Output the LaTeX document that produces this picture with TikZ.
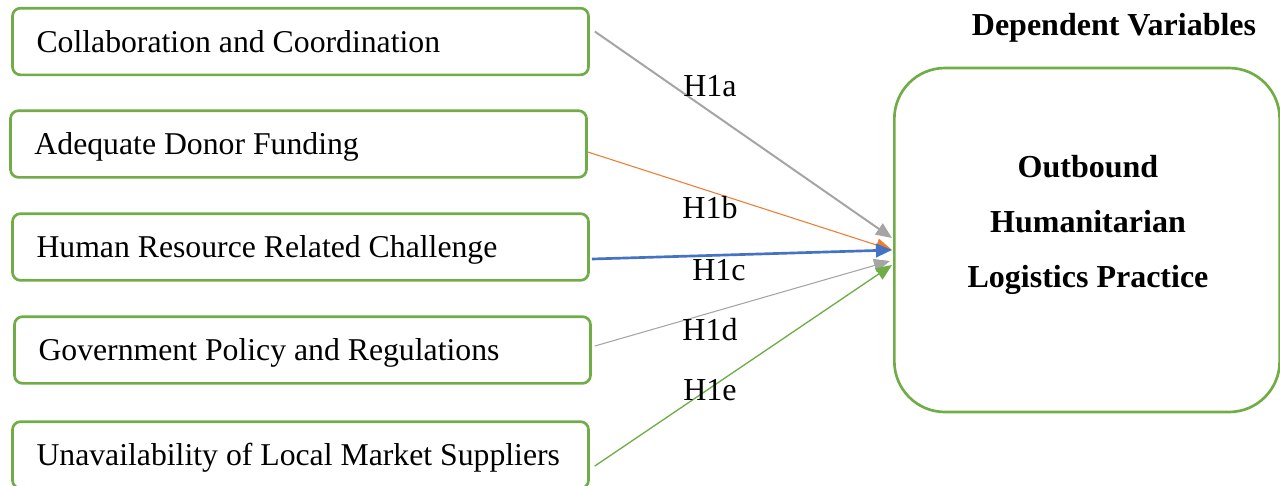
\documentclass[tikz,border=0pt]{standalone}
\usepackage{fontspec}
\setmainfont{Liberation Serif}
\usepackage{tikz}
\usetikzlibrary{calc}
\usetikzlibrary{arrows.meta}

\definecolor{boxgreen}{HTML}{70AD47}
\definecolor{linegray}{HTML}{A5A5A5}
\definecolor{lineorange}{HTML}{ED7D31}
\definecolor{lineblue}{HTML}{4472C4}

\newcommand{\vtext}[1]{\makebox[198pt][l]{#1}}

\begin{document}
\begin{tikzpicture}[x=0.375pt,y=-0.375pt]
    \tikzset{varbox/.style={draw=boxgreen, line width=1pt, rounded corners=3pt, minimum height=25pt, minimum width=216pt, inner xsep=9pt, text height=10.5pt, text depth=2.3pt, font=\fontsize{11.9}{14}\selectfont}}
    \tikzset{depbox/.style={draw=boxgreen, line width=1pt, rounded corners=19pt, minimum width=144.5pt, minimum height=129pt}}
    \tikzset{hyp/.style={font=\fontsize{12}{14}\selectfont, inner sep=1pt}}
    \tikzset{tip/.style={-{Triangle[length=6pt,width=5pt]}}}

    \useasboundingbox (0,0) rectangle (1280,485);

    %independent variables
    \node[varbox] (collab) at (300.5,41.5) {\vtext{Collaboration and Coordination}};
    \node[varbox] (donor) at (298.5,144) {\vtext{Adequate Donor Funding}};
    \node[varbox] (hr) at (300.5,247) {\vtext{Human Resource Related Challenge}};
    \node[varbox] (policy) at (302.5,350) {\vtext{Government Policy and Regulations}};
    \node[varbox] (supplier) at (300.5,455) {\vtext{Unavailability of Local Market Suppliers}};

    %dependent variable
    \node[font=\bfseries\fontsize{12}{14}\selectfont] (deptitle) at (1114,28) {Dependent Variables};
    \node[depbox] (outbound) at (1087,240) {};
    \node[font=\bfseries\fontsize{12}{20.6}\selectfont, align=center] (outtext) at (1088,225) {Outbound\\Humanitarian\\Logistics Practice};

    %arrows
    \draw[tip, color=linegray, line width=0.75pt] ($(collab.east)+(5,-10)$) -- ($(outbound.west)+(-1,-2)$);
    \draw[tip, color=lineorange, line width=0.4pt] ($(donor.east)+(0,8)$) -- ($(outbound.west)+(-1,10)$);
    \draw[tip, color=lineblue, line width=1pt] ($(hr.east)+(2,12)$) -- ($(outbound.west)+(-1,10)$);
    \draw[tip, color=linegray, line width=0.4pt] ($(policy.east)+(3,-4)$) -- ($(outbound.west)+(-3,21)$);
    \draw[tip, color=boxgreen, line width=0.5pt] ($(supplier.east)+(5,11)$) -- ($(outbound.west)+(-1,25)$);

    %hypothesis labels
    \node[hyp] (h1a) at (710,86) {H1a};
    \node[hyp] (h1b) at (710,208) {H1b};
    \node[hyp] (h1c) at (719,270) {H1c};
    \node[hyp] (h1d) at (710,330) {H1d};
    \node[hyp] (h1e) at (710,390) {H1e};
\end{tikzpicture}
\end{document}
